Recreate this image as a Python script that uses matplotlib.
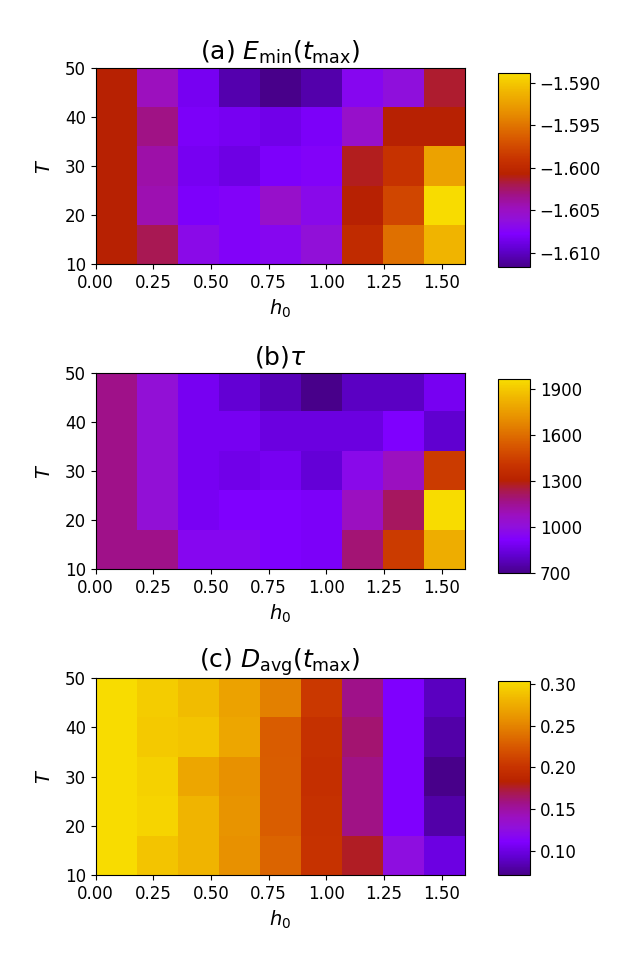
import numpy as np
import matplotlib
matplotlib.use("Agg")
import matplotlib.pyplot as plt
from matplotlib.colors import LinearSegmentedColormap

# grid: h0 columns (0 .. 1.6), T rows (10 .. 50)
h0_range = [0.0, 1.6]
T_range = [10, 50]

# rows listed from top (T=50 side) to bottom (T=10 side)
E_min = [
    [-1.6007, -1.6048, -1.6083, -1.6106, -1.6117, -1.6107, -1.6071, -1.6062, -1.6015],
    [-1.6007, -1.6032, -1.6080, -1.6083, -1.6086, -1.6080, -1.6053, -1.6007, -1.6007],
    [-1.6007, -1.6041, -1.6083, -1.6088, -1.6079, -1.6075, -1.6012, -1.5990, -1.5922],
    [-1.6007, -1.6044, -1.6079, -1.6075, -1.6053, -1.6068, -1.6007, -1.5977, -1.5888],
    [-1.6007, -1.6021, -1.6067, -1.6075, -1.6071, -1.6060, -1.5998, -1.5952, -1.5911],
]

tau = [
    [1165, 1013, 886, 823, 772, 696, 791, 791, 886],
    [1165, 1013, 886, 886, 848, 848, 848, 911, 810],
    [1165, 1013, 886, 867, 886, 829, 968, 1076, 1431],
    [1165, 1013, 892, 911, 911, 899, 1076, 1215, 1963],
    [1165, 1165, 949, 949, 911, 899, 1190, 1431, 1811],
]

D_avg = [
    [0.3044, 0.295, 0.286, 0.269, 0.248, 0.204, 0.157, 0.110, 0.088],
    [0.3044, 0.293, 0.290, 0.272, 0.227, 0.199, 0.162, 0.110, 0.080],
    [0.3044, 0.298, 0.272, 0.258, 0.228, 0.197, 0.158, 0.110, 0.0707],
    [0.3044, 0.299, 0.281, 0.260, 0.228, 0.199, 0.158, 0.110, 0.080],
    [0.3044, 0.290, 0.281, 0.258, 0.232, 0.200, 0.177, 0.125, 0.099],
]

titles = [r"(a) $E_{\min}(t_{\max})$", r"(b)$\tau$", r"(c) $D_{\rm avg}(t_{\max})$"]
cbar_ticks = [
    [-1.610, -1.605, -1.600, -1.595, -1.590],
    [700, 1000, 1300, 1600, 1900],
    [0.10, 0.15, 0.20, 0.25, 0.30],
]

cmap = LinearSegmentedColormap.from_list("pm", [
    (0.00, "#48008a"),
    (0.09, "#6000d0"),
    (0.17, "#8000ff"),
    (0.24, "#9010dc"),
    (0.30, "#9c10c0"),
    (0.37, "#a01288"),
    (0.43, "#aa1a48"),
    (0.48, "#b82200"),
    (0.56, "#c83400"),
    (0.66, "#d85800"),
    (0.80, "#e89000"),
    (0.90, "#f0b400"),
    (1.00, "#f8dc00"),
])

W, H = 623, 972
fig = plt.figure(figsize=(W / 100, H / 100), dpi=100)

# pixel boxes: (left, top, right, bottom)
ax_boxes = [(95.7, 68.3, 464.6, 264.3), (95.7, 372.7, 464.6, 569.3), (95.7, 678.3, 464.6, 875.0)]
cb_boxes = [(498.3, 72.7, 530.0, 267.3), (498.3, 379.3, 530.0, 573.3), (498.3, 680.7, 530.0, 875.0)]


def frac(box):
    l, t, r, b = box
    return [l / W, 1 - b / H, (r - l) / W, (b - t) / H]


for i, data in enumerate([E_min, tau, D_avg]):
    ax = fig.add_axes(frac(ax_boxes[i]))
    cax = fig.add_axes(frac(cb_boxes[i]))
    im = ax.imshow(np.array(data), cmap=cmap, origin="upper", aspect="auto",
                   interpolation="nearest",
                   extent=[h0_range[0], h0_range[1], T_range[0], T_range[1]])
    ax.set_xticks([0, 0.25, 0.5, 0.75, 1.0, 1.25, 1.5])
    ax.set_xticklabels(["0.00", "0.25", "0.50", "0.75", "1.00", "1.25", "1.50"])
    ax.set_yticks([10, 20, 30, 40, 50])
    ax.tick_params(labelsize=12)
    ax.set_xlabel(r"$h_0$", fontsize=14)
    ax.set_ylabel(r"$T$", fontsize=14, labelpad=8)
    ax.set_title(titles[i], fontsize=18)
    cb = fig.colorbar(im, cax=cax, ticks=cbar_ticks[i])
    cb.ax.tick_params(labelsize=12)

fig.savefig("out.png", dpi=100)
